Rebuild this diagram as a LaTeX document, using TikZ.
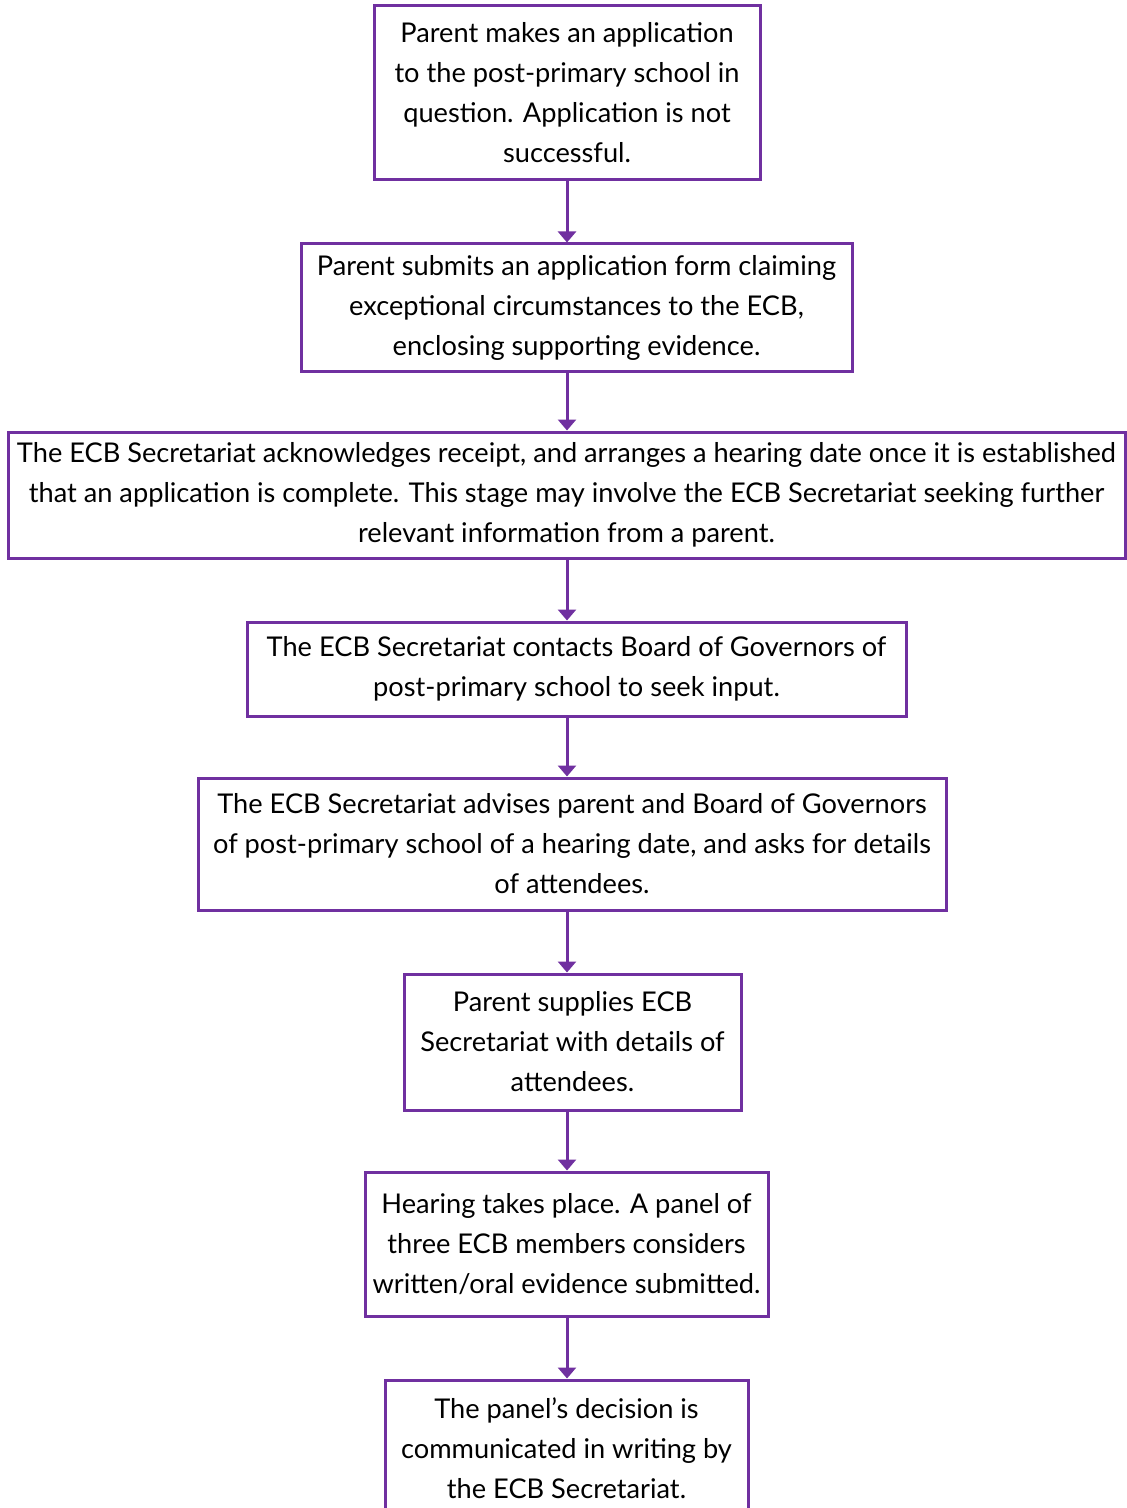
\documentclass[tikz,border=0pt]{standalone}
\usepackage{fontspec}
\setmainfont{Lato}
\usetikzlibrary{arrows.meta}
\definecolor{ecbpurple}{RGB}{112,48,160}
\begin{document}
\begin{tikzpicture}[x=0.5pt,y=-0.5pt,
  box/.style={draw=ecbpurple,line width=1.5pt,align=center,inner sep=0pt,
    font=\fontsize{13.6}{20}\selectfont},
  flow/.style={draw=ecbpurple,line width=1.5pt,-{Triangle[width=9pt,length=5.5pt]}}]
\useasboundingbox (0,0) rectangle (1126,1508);
%boxes
\node[box,minimum width=193pt,minimum height=87pt] (apply) at (567,93)
  {Parent makes an application\\to the post-primary school in\\question. Application is not\\successful.};
\node[box,minimum width=275.5pt,minimum height=63.5pt] (form) at (576.5,307.5)
  {Parent submits an application form claiming\\exceptional circumstances to the ECB,\\enclosing supporting evidence.};
\node[box,minimum width=558.5pt,minimum height=63pt] (receipt) at (566.5,495)
  {The ECB Secretariat acknowledges receipt, and arranges a hearing date once it is established\\that an application is complete. This stage may involve the ECB Secretariat seeking further\\relevant information from a parent.};
\node[box,minimum width=329.5pt,minimum height=47pt] (board) at (576.5,669)
  {The ECB Secretariat contacts Board of Governors of\\post-primary school to seek input.};
\node[box,minimum width=374pt,minimum height=66pt] (advise) at (572,844)
  {The ECB Secretariat advises parent and Board of Governors\\of post-primary school of a hearing date, and asks for details\\of attendees.};
\node[box,minimum width=168.5pt,minimum height=68pt] (attend) at (572.5,1042)
  {Parent supplies ECB\\Secretariat with details of\\attendees.};
\node[box,minimum width=201.5pt,minimum height=72pt] (hearing) at (566.5,1244)
  {Hearing takes place. A panel of\\three ECB members considers\\written/oral evidence submitted.};
\node[box,minimum width=181.5pt,minimum height=68pt] (decision) at (566.5,1448)
  {The panel's decision is\\communicated in writing by\\the ECB Secretariat.};
%arrows
\foreach \a/\b in {apply/form,form/receipt,receipt/board,board/advise,advise/attend,attend/hearing,hearing/decision}
  \draw[flow] (\a.south -| 567,0) -- (\b.north -| 567,0);
\end{tikzpicture}
\end{document}
